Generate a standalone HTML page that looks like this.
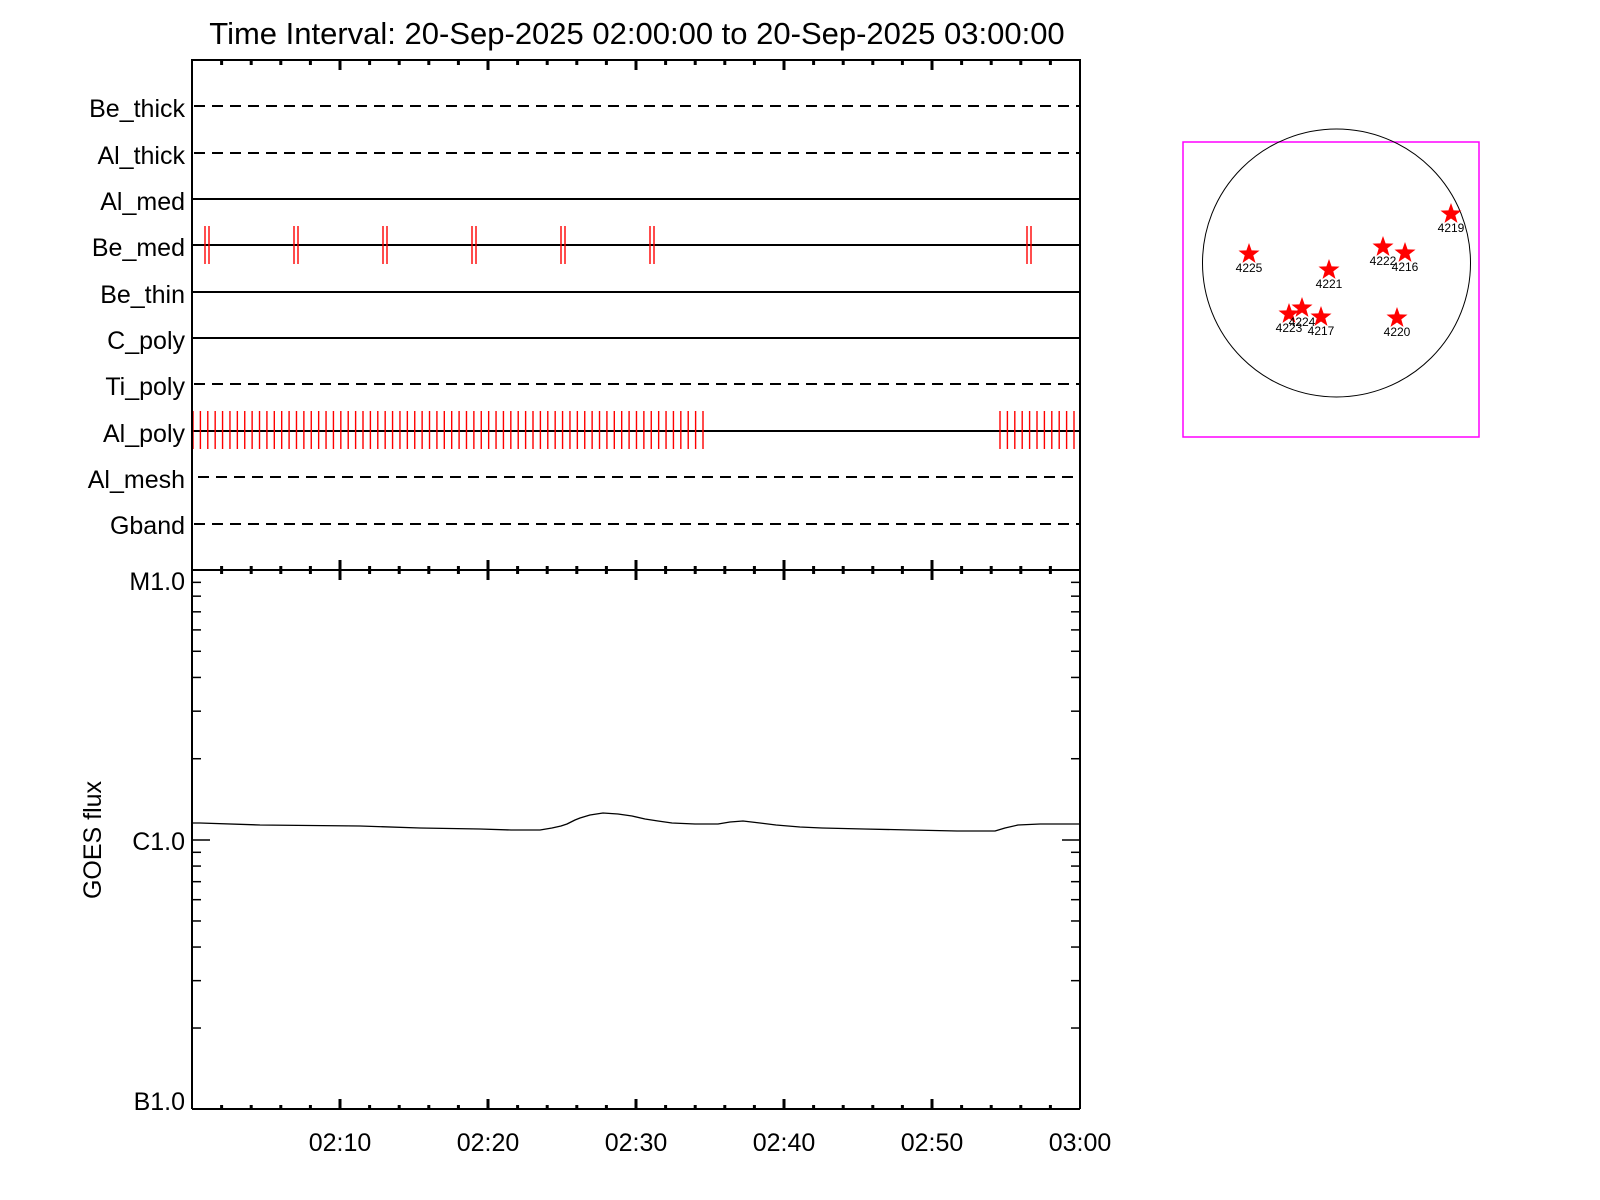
<!DOCTYPE html>
<html><head><meta charset="utf-8"><style>
html,body{margin:0;padding:0;background:#fff;}
svg{display:block;font-family:"Liberation Sans",sans-serif;}
</style></head><body>
<svg width="1600" height="1200" viewBox="0 0 1600 1200" xmlns="http://www.w3.org/2000/svg">
<rect width="1600" height="1200" fill="#fff"/>
<text x="637" y="44" font-size="31" text-anchor="middle">Time Interval: 20-Sep-2025 02:00:00 to 20-Sep-2025 03:00:00</text>

<g font-size="25" text-anchor="end">
<text x="185" y="117">Be_thick</text>
<text x="185" y="164">Al_thick</text>
<text x="185" y="210">Al_med</text>
<text x="185" y="256">Be_med</text>
<text x="185" y="303">Be_thin</text>
<text x="185" y="349">C_poly</text>
<text x="185" y="395">Ti_poly</text>
<text x="185" y="442">Al_poly</text>
<text x="185" y="488">Al_mesh</text>
<text x="185" y="534">Gband</text>
</g>

<g stroke="#000" stroke-width="2" fill="none">
<line x1="194" y1="106" x2="1080" y2="106" stroke-dasharray="11 7"/>
<line x1="194" y1="153" x2="1080" y2="153" stroke-dasharray="11 7"/>
<line x1="192" y1="199" x2="1080" y2="199"/>
<line x1="192" y1="245" x2="1080" y2="245"/>
<line x1="192" y1="292" x2="1080" y2="292"/>
<line x1="192" y1="338" x2="1080" y2="338"/>
<line x1="194" y1="384" x2="1080" y2="384" stroke-dasharray="11 7"/>
<line x1="192" y1="431" x2="1080" y2="431"/>
<line x1="198" y1="477" x2="1080" y2="477" stroke-dasharray="11 7"/>
<line x1="194" y1="524" x2="1080" y2="524" stroke-dasharray="11 7"/>
</g>

<g id="red" stroke="#f00" stroke-width="1.4"></g>

<g stroke="#000" stroke-width="2" fill="none">
<rect x="192" y="60" width="888" height="510"/>
<line x1="192" y1="570" x2="192" y2="1109"/>
<line x1="1080" y1="570" x2="1080" y2="1109"/>
<line x1="192" y1="1109" x2="1080" y2="1109"/>
</g>
<g id="ticks" stroke="#000" stroke-width="3"></g>
<g id="yticks" stroke="#000" stroke-width="1.5"></g>

<polyline fill="none" stroke="#000" stroke-width="1.3" stroke-linejoin="round" points="193,823 200,823 260,825 360,826 420,828 480,829 511,830 540,830 552,828 561,826 567,824 575,820 580,818 590,815 603,813 618,814 632,816 645,819 658,821 672,823 695,824 718,824 730,822 743,821 760,823 776,825 800,827 822,828 864,829 911,830 957,831 995,831 1005,828 1018,825 1040,824 1080,824"/>

<g font-size="25" text-anchor="end">
<text x="185" y="590">M1.0</text>
<text x="185" y="850">C1.0</text>
<text x="185" y="1110">B1.0</text>
</g>
<text transform="translate(101,840) rotate(-90)" font-size="25" text-anchor="middle">GOES flux</text>
<g font-size="25" text-anchor="middle">
<text x="340" y="1151">02:10</text>
<text x="488" y="1151">02:20</text>
<text x="636" y="1151">02:30</text>
<text x="784" y="1151">02:40</text>
<text x="932" y="1151">02:50</text>
<text x="1080" y="1151">03:00</text>
</g>

<rect x="1183" y="142" width="296" height="295" fill="none" stroke="#f0f" stroke-width="1.5"/>
<circle cx="1336.5" cy="263" r="134" fill="none" stroke="#000" stroke-width="1"/>
<g id="stars"></g>

<script>
(function(){
var NS="http://www.w3.org/2000/svg";
function L(g,x1,y1,x2,y2,w){var l=document.createElementNS(NS,"line");l.setAttribute("x1",x1);l.setAttribute("y1",y1);l.setAttribute("x2",x2);l.setAttribute("y2",y2);if(w)l.setAttribute("stroke-width",w);g.appendChild(l);}
var red=document.getElementById("red");
[205,294,383,472,561,650,1027].forEach(function(x){L(red,x,226,x,264);L(red,x+4,226,x+4,264);});
for(var i=0;i<70;i++){var x=193+i*510/69;L(red,x,411,x,449);}
for(var i=0;i<11;i++){var x=1000+i*7.4;L(red,x,411,x,449);}
var t=document.getElementById("ticks");
for(var m=2;m<60;m+=2){var x=192+14.8*m;var maj=(m%10==0);
 L(t,x,60,x,60+(maj?10:5));
 L(t,x,570-(maj?10:4),x,570+(maj?10:4));
 L(t,x,1109,x,1109-(maj?10:4));}
var yt=document.getElementById("yticks");
function ytick(y,len){L(yt,192,y,192+len,y);L(yt,1080,y,1080-len,y);}
ytick(840,18);
for(var k=2;k<=9;k++){var d=Math.log10(k);ytick(840-270*d,9);ytick(1109-269*d,9);}
var sg=document.getElementById("stars");
var S=[[1451,214,"4219"],[1249,254,"4225"],[1383,247,"4222"],[1405,253,"4216"],[1329,270,"4221"],[1289,314,"4223"],[1302,308,"4224"],[1321,317,"4217"],[1397,318,"4220"]];
S.forEach(function(s){var p=document.createElementNS(NS,"polygon");var pts=[];
 for(var i=0;i<10;i++){var r=(i%2==0)?11:4.5;var a=-Math.PI/2+i*Math.PI/5;pts.push((s[0]+r*Math.cos(a)).toFixed(1)+","+(s[1]+r*Math.sin(a)).toFixed(1));}
 p.setAttribute("points",pts.join(" "));p.setAttribute("fill","#f00");sg.appendChild(p);
 var tx=document.createElementNS(NS,"text");tx.setAttribute("x",s[0]);tx.setAttribute("y",s[1]+18);tx.setAttribute("font-size","12");tx.setAttribute("text-anchor","middle");tx.textContent=s[2];sg.appendChild(tx);});
})();
</script>
</svg>
</body></html>
